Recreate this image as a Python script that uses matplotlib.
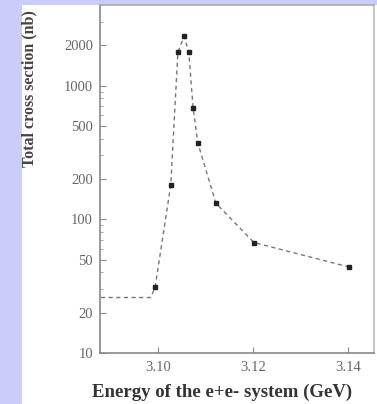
import matplotlib
matplotlib.use('Agg')
import matplotlib.pyplot as plt

matplotlib.rcParams['font.family'] = 'Liberation Serif'

# measured points (energy in GeV, cross section in nb)
energy = [3.0994, 3.1027, 3.1042, 3.1055, 3.1065, 3.1074, 3.1084, 3.1122, 3.1202, 3.1402]
sigma = [31, 180, 1770, 2330, 1770, 684, 372, 132, 67, 44]

# dashed guide curve through the points, with the flat part on the left
curve_e = [3.0880, 3.0985, 3.0994, 3.1027, 3.1042, 3.1055, 3.1065, 3.1074, 3.1084, 3.1122, 3.1202, 3.1402]
curve_s = [26, 26, 31, 180, 1770, 2330, 1770, 684, 372, 132, 67, 44]

yticks = [10, 20, 50, 100, 200, 500, 1000, 2000]
xticks = [3.10, 3.12, 3.14]
xticklabels = ['3.10', '3.12', '3.14']

fig = plt.figure(figsize=(3.77, 4.04), dpi=100)
fig.patch.set_facecolor('#ccccf8')
# white paper area
paper = fig.add_axes([22/377, 0, 1 - 22/377, 1 - 5/404])
paper.set_facecolor('white')
paper.set_xticks([])
paper.set_yticks([])
for s in paper.spines.values():
    s.set_visible(False)

ax = fig.add_axes([100/377, 1 - 353/404, 274/377, 348/404])
ax.set_facecolor('white')
ax.set_yscale('log')
ax.set_xlim(3.0878, 3.1455)
ax.set_ylim(10, 4000)

ax.plot(curve_e, curve_s, linestyle=(0, (3, 2.5)), color='#777777', linewidth=1.0)
ax.plot(energy, sigma, 's', color='#222222', markersize=3.4, linestyle='none')

ax.set_yticks(yticks)
ax.set_yticklabels([str(v) for v in yticks])
ax.set_xticks(xticks)
ax.set_xticklabels(xticklabels)
ax.tick_params(direction='in', colors='#888888', labelcolor='#666666', labelsize=10.5,
               length=4, width=0.8)
ax.tick_params(axis='y', which='minor', direction='in', length=2, color='#999999')
ax.tick_params(axis='x', pad=6)
ax.tick_params(axis='y', pad=5)
for s in ax.spines.values():
    s.set_color('#888888')
    s.set_linewidth(1.2)
ax.spines['right'].set_color('#bbbbbb')
ax.spines['top'].set_color('#aaaaaa')

fig.text(92/377, 1 - 392/404, 'Energy of the e+e- system (GeV)',
         ha='left', va='center', fontsize=13.5, fontweight='bold', color='#333333')
fig.text(29/377, 1 - 89/404, 'Total cross section (nb)', rotation=90,
         ha='center', va='center', fontsize=11.5, fontweight='bold', color='#444444')

fig.savefig('out.png', dpi=100, facecolor=fig.get_facecolor())
